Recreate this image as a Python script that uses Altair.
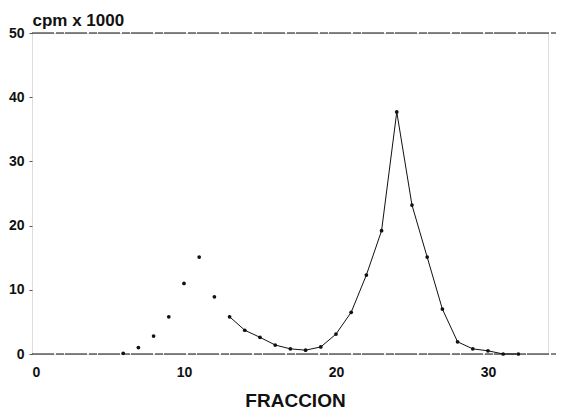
import altair as alt
import pandas as pd

# fraction numbers and counts (cpm x 1000)
dot_frac = [6, 7, 8, 9, 10, 11, 12]
dot_cpm = [0.1, 1.0, 2.8, 5.8, 11.0, 15.1, 8.9]

line_frac = [13, 14, 15, 16, 17, 18, 19, 20, 21, 22, 23, 24, 25, 26, 27, 28, 29, 30, 31, 32]
line_cpm = [5.8, 3.7, 2.6, 1.4, 0.8, 0.6, 1.1, 3.1, 6.5, 12.3, 19.2, 37.7, 23.2, 15.1, 7.0, 1.9, 0.8, 0.5, 0.0, 0.0]

y_ticks = [0, 10, 20, 30, 40, 50]
x_ticks = [0, 10, 20, 30]

dots = pd.DataFrame({"frac": dot_frac + line_frac, "cpm": dot_cpm + line_cpm})
curve = pd.DataFrame({"frac": line_frac, "cpm": line_cpm})
frame = pd.DataFrame({"k": ["top", "bottom"]})

FONT = "Liberation Sans"
W, H = 516, 321

xs = alt.Scale(domain=[0, 33.95], nice=False, zero=False)
ys = alt.Scale(domain=[0, 50], nice=False)

xaxis = alt.Axis(values=x_ticks, ticks=False, domain=False,
                 labelPadding=11, labelFontSize=14, labelFontWeight="bold",
                 labelFont=FONT, labelColor="#111", grid=False, title="FRACCION",
                 titleFont=FONT, titleFontSize=19, titleFontWeight="bold", titleColor="#111",
                 titleX=263, titleY=46, titleAlign="center", titleBaseline="middle")
yaxis = alt.Axis(values=y_ticks, domain=False, ticks=True, tickSize=3, tickColor="#555",
                 labelPadding=5, labelFontSize=14, labelFontWeight="bold", labelFont=FONT,
                 labelColor="#111", grid=False, title="cpm x 1000", titleFont=FONT,
                 titleFontSize=17, titleFontWeight="bold", titleColor="#111", titleAngle=0,
                 titleX=0, titleY=-13, titleAlign="left", titleBaseline="middle")

pts = alt.Chart(dots).mark_circle(size=14, color="#111", opacity=1).encode(
    x=alt.X("frac:Q", scale=xs, axis=xaxis),
    y=alt.Y("cpm:Q", scale=ys, axis=yaxis),
)
ln = alt.Chart(curve).mark_line(color="#111", strokeWidth=1).encode(
    x=alt.X("frac:Q", scale=xs),
    y=alt.Y("cpm:Q", scale=ys),
)
top_rule = alt.Chart(frame).transform_filter("datum.k == 'top'").mark_rule(
    color="#111", strokeWidth=1.2, strokeDash=[22, 2, 8, 1]).encode(
    x=alt.value(0), x2=alt.value(W + 8), y=alt.value(0))
bottom_rule = alt.Chart(frame).transform_filter("datum.k == 'bottom'").mark_rule(
    color="#111", strokeWidth=1.2, strokeDash=[22, 2, 8, 1]).encode(
    x=alt.value(0), x2=alt.value(W + 8), y=alt.value(H))

chart = alt.layer(top_rule, bottom_rule, ln, pts).properties(
    width=W, height=H,
    autosize=alt.AutoSizeParams(type="none"),
    padding={"left": 24, "top": 25, "right": 8, "bottom": 56},
).configure_view(stroke=None).configure(background="white")

chart.save("out.html", embed_options={"renderer": "svg", "actions": False})
